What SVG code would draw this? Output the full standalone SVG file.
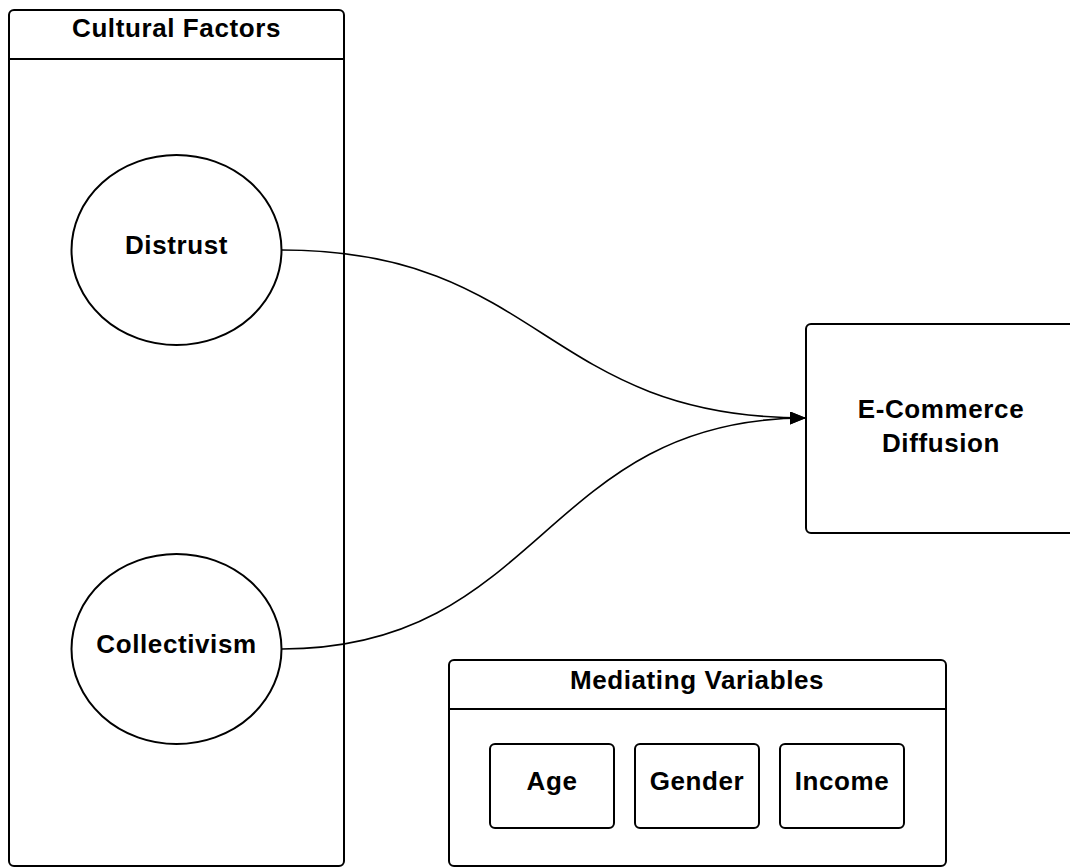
<svg xmlns="http://www.w3.org/2000/svg" width="1070" height="867" viewBox="0 0 1070 867">
  <style>
    .box { fill: #ffffff; stroke: #000000; stroke-width: 2; }
    .line { fill: none; stroke: #000000; stroke-width: 2; }
    .conn { fill: none; stroke: #000000; stroke-width: 1.6; }
    .lbl { font-family: "Liberation Sans", Arial, sans-serif; font-weight: bold; font-size: 26px; letter-spacing: 0.6px; fill: #000000; text-anchor: middle; }
  </style>
  <defs>
    <marker id="arrow" markerUnits="userSpaceOnUse" markerWidth="18" markerHeight="14" refX="16" refY="6.5" orient="auto">
      <path d="M0,0 L16,6.5 L0,13 Z" fill="#000000"/>
    </marker>
  </defs>
  <rect width="1070" height="867" fill="#ffffff"/>

  <g id="cultural-factors">
    <rect class="box" x="9" y="10" width="335" height="856" rx="5" ry="5"/>
    <line class="line" x1="9" y1="59" x2="344" y2="59"/>
    <text class="lbl" x="176.5" y="37">Cultural Factors</text>
  </g>

  <g id="distrust">
    <ellipse class="box" cx="176.5" cy="250" rx="105" ry="95"/>
    <text class="lbl" x="176.5" y="254">Distrust</text>
  </g>

  <g id="collectivism">
    <ellipse class="box" cx="176.5" cy="649" rx="105" ry="95"/>
    <text class="lbl" x="176.5" y="653">Collectivism</text>
  </g>

  <g id="ecommerce-diffusion">
    <rect class="box" x="806" y="324" width="272" height="209" rx="5" ry="5"/>
    <text class="lbl" x="941" y="418">E-Commerce</text>
    <text class="lbl" x="941" y="452">Diffusion</text>
  </g>

  <g id="mediating-variables">
    <rect class="box" x="449" y="660" width="497" height="206" rx="5" ry="5"/>
    <line class="line" x1="449" y1="709" x2="946" y2="709"/>
    <text class="lbl" x="697" y="689">Mediating Variables</text>
  </g>

  <g id="age">
    <rect class="box" x="490" y="744" width="124" height="84" rx="5" ry="5"/>
    <text class="lbl" x="552" y="790">Age</text>
  </g>

  <g id="gender">
    <rect class="box" x="635" y="744" width="124" height="84" rx="5" ry="5"/>
    <text class="lbl" x="697" y="790">Gender</text>
  </g>

  <g id="income">
    <rect class="box" x="780" y="744" width="124" height="84" rx="5" ry="5"/>
    <text class="lbl" x="842" y="790">Income</text>
  </g>

  <g id="connectors">
    <path class="conn" d="M282,250 C543,250 543,418 806,418" marker-end="url(#arrow)"/>
    <path class="conn" d="M282,649 C543,649 543,418 806,418" marker-end="url(#arrow)"/>
  </g>
</svg>
